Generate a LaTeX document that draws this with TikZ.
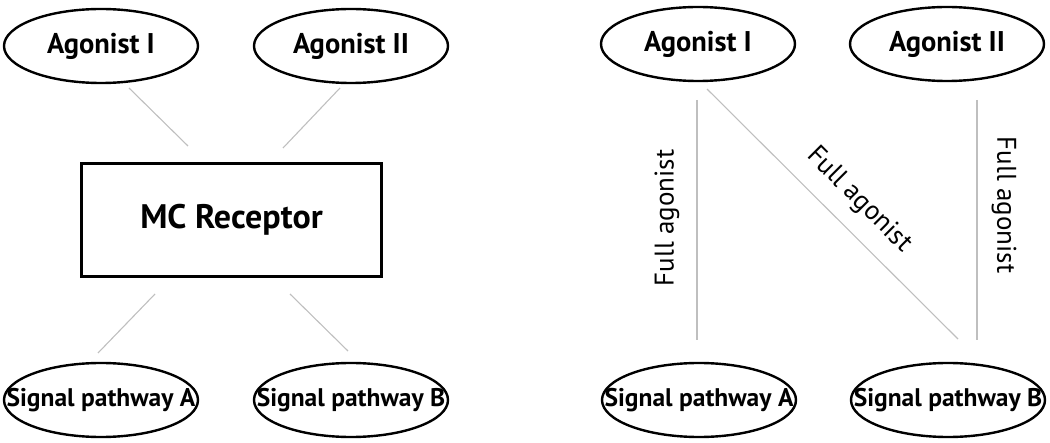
\documentclass[tikz,border=0pt]{standalone}
\usepackage{fontspec}
\setmainfont{PT Sans}
\usetikzlibrary{shapes.geometric}
\newcommand{\fixw}[1]{\makebox[0pt]{#1}}
\begin{document}
\begin{tikzpicture}[x=1pt,y=-1pt,
  oval/.style={draw=black,line width=2.4pt,ellipse,inner sep=0pt,minimum width=194pt,minimum height=74pt},
  boldlbl/.style={font=\fontsize{28.5}{30}\selectfont\bfseries},
  reclbl/.style={font=\fontsize{34}{36}\selectfont\bfseries},
  smalllbl/.style={font=\fontsize{25.5}{27}\selectfont\bfseries},
  link/.style={draw=black!25,line width=1.1pt},
  edgelbl/.style={font=\fontsize{27}{29}\selectfont,inner sep=0pt}]
\useasboundingbox (0,0) rectangle (1050,443);
% left half
\node[oval,boldlbl] (a1) at (101,46) {\fixw{Agonist I}};
\node[oval,boldlbl] (a2) at (351,46) {\fixw{Agonist II}};
\node[draw=black,line width=3pt,minimum width=300pt,minimum height=113pt,inner sep=0pt,reclbl] (rec) at (231.5,220) {MC Receptor};
\node[oval,smalllbl] (sa) at (101,400) {\fixw{Signal pathway A}};
\node[oval,smalllbl] (sb) at (351,400) {\fixw{Signal pathway B}};
\coordinate (l1s) at (129,88);  \coordinate (l1e) at (188,146);
\coordinate (l2s) at (340,88);  \coordinate (l2e) at (283,148);
\coordinate (l3s) at (155,294); \coordinate (l3e) at (98,353);
\coordinate (l4s) at (290,294); \coordinate (l4e) at (348,351);
\draw[link] (l1s) -- (l1e);
\draw[link] (l2s) -- (l2e);
\draw[link] (l3s) -- (l3e);
\draw[link] (l4s) -- (l4e);
% right half
\node[oval,boldlbl] (b1) at (698,44) {\fixw{Agonist I}};
\node[oval,boldlbl] (b2) at (947,44) {\fixw{Agonist II}};
\node[oval,smalllbl] (ta) at (699,400) {\fixw{Signal pathway A}};
\node[oval,smalllbl] (tb) at (948,400) {\fixw{Signal pathway B}};
\coordinate (r1s) at (697,100); \coordinate (r1e) at (697,340);
\coordinate (r2s) at (707,89);  \coordinate (r2e) at (958,339);
\coordinate (r3s) at (977,100); \coordinate (r3e) at (977,340);
\draw[link] (r1s) -- (r1e);
\draw[link] (r2s) -- (r2e);
\draw[link] (r3s) -- (r3e);
\node[edgelbl,rotate=90] (f1) at (667,218) {Full agonist};
\node[edgelbl,rotate=-45] (f2) at (859,200) {Full agonist};
\node[edgelbl,rotate=-90] (f3) at (1004,205) {Full agonist};
\end{tikzpicture}
\end{document}
